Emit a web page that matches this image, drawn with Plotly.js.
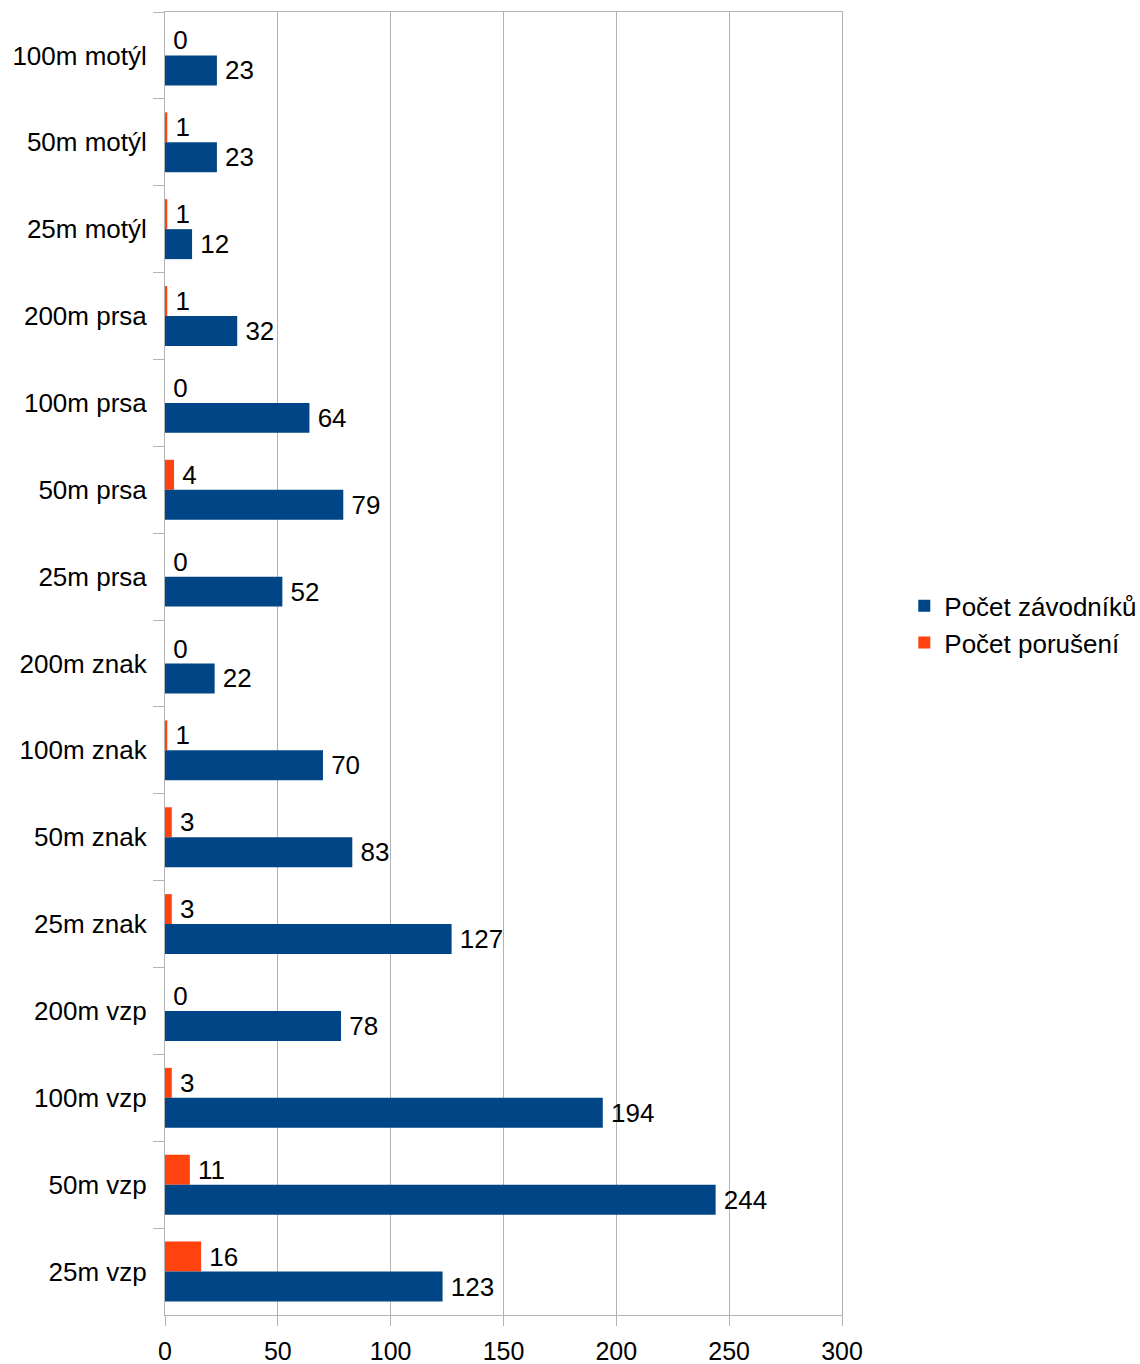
<!DOCTYPE html>
<html>
<head>
<meta charset="utf-8">
<script src="https://cdn.plot.ly/plotly-3.0.1.min.js"></script>
<style>html,body{margin:0;padding:0;background:#fff;}#chart{width:1140px;height:1364px;}</style>
</head>
<body>
<div id="chart"></div>
<script>
const categories = ["100m motýl","50m motýl","25m motýl","200m prsa","100m prsa","50m prsa","25m prsa","200m znak","100m znak","50m znak","25m znak","200m vzp","100m vzp","50m vzp","25m vzp"];
const zavodniku = [23,23,12,32,64,79,52,22,70,83,127,78,194,244,123];
const poruseni = [0,1,1,1,0,4,0,0,1,3,3,0,3,11,16];
const xTicks = [0,50,100,150,200,250,300];

const fam = "Liberation Sans, Arial, sans-serif";
const font = {family:fam, size:26, color:"#000"};
const pad = "\u2009";

const traces = [
  {type:"bar", orientation:"h", name:"Počet porušení", y:categories, x:poruseni,
   marker:{color:"#ff420e"}, text:poruseni.map(v => pad + v), textposition:"outside",
   textfont:font, cliponaxis:false, hoverinfo:"x"},
  {type:"bar", orientation:"h", name:"Počet závodníků", y:categories, x:zavodniku,
   marker:{color:"#004586"}, text:zavodniku.map(v => pad + v), textposition:"outside",
   textfont:font, cliponaxis:false, hoverinfo:"x"}
];

const layout = {
  width:1140, height:1364,
  margin:{l:165, r:298, t:12, b:49, autoexpand:false},
  paper_bgcolor:"#fff", plot_bgcolor:"#fff",
  font:font,
  barmode:"group", bargap:0.31, bargroupgap:0,
  showlegend:true,
  legend:{x:1.092, xanchor:"left", y:0.53, yanchor:"middle", traceorder:"reversed",
          font:font, itemwidth:30, tracegroupgap:0, bgcolor:"rgba(0,0,0,0)"},
  xaxis:{range:[0,300], tickvals:xTicks, ticktext:xTicks.map(String),
         showgrid:true, gridcolor:"#b3b3b3", gridwidth:1,
         showline:true, linecolor:"#b3b3b3", linewidth:1, mirror:true,
         ticks:"outside", ticklen:10, tickcolor:"#b3b3b3", ticklabelstandoff:4,
         tickfont:{family:fam, size:25, color:"#000"}, zeroline:false, fixedrange:true},
  yaxis:{type:"category", autorange:"reversed", tickson:"boundaries",
         showgrid:false, showline:true, linecolor:"#b3b3b3", linewidth:1, mirror:true,
         ticks:"outside", ticklen:11, tickcolor:"#b3b3b3", ticklabelstandoff:12,
         tickfont:font, fixedrange:true}
};

Plotly.newPlot("chart", traces, layout, {displayModeBar:false, staticPlot:true});
</script>
</body>
</html>
